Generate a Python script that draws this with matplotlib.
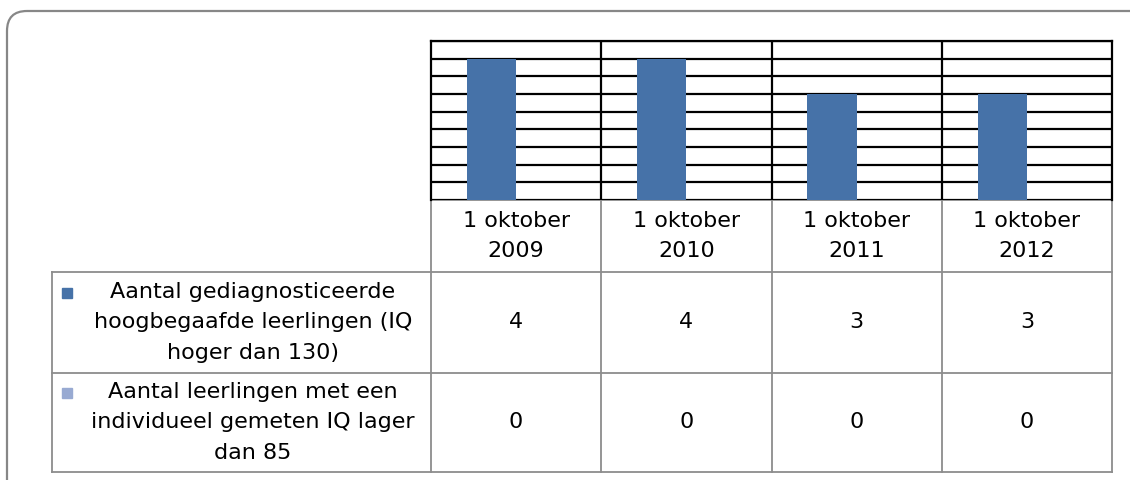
import numpy as np
import matplotlib.pyplot as plt
from matplotlib.patches import FancyBboxPatch, Rectangle

# data
categorieen = ["1 oktober\n2009", "1 oktober\n2010", "1 oktober\n2011", "1 oktober\n2012"]
reeks_namen = ["Aantal gediagnosticeerde\nhoogbegaafde leerlingen (IQ\nhoger dan 130)",
               "Aantal leerlingen met een\nindividueel gemeten IQ lager\ndan 85"]
hoogbegaafd = [4, 4, 3, 3]
iq_laag = [0, 0, 0, 0]
kleuren = ["#4672A8", "#98AAD2"]

W, H = 1130, 480
fig = plt.figure(figsize=(W / 100, H / 100), dpi=100)
plt.rcParams['font.family'] = ['DejaVu Sans']
fs = 16
grijs = "#8C8C8C"

# overlay voor kader en tabel (pixelcoordinaten)
ov = fig.add_axes([0, 0, 1, 1], zorder=0)
ov.set_xlim(0, W)
ov.set_ylim(H, 0)
ov.axis("off")
ov.add_patch(FancyBboxPatch((7, 11), W + 20, H + 20, boxstyle="round,pad=0,rounding_size=20",
                            fill=False, ec="#878787", lw=1.6))

# plotgebied
links, rechts, boven, onder = 431, 1112, 41, 200
ax = fig.add_axes([links / W, 1 - onder / H, (rechts - links) / W, (onder - boven) / H], zorder=1)
ax.set_facecolor("none")
x = np.arange(len(categorieen))
bw = 0.29
ax.bar(x - bw / 2, hoogbegaafd, bw, color=kleuren[0], zorder=3)
ax.bar(x + bw / 2, iq_laag, bw, color=kleuren[1], zorder=3)
ax.set_xlim(-0.5, len(categorieen) - 0.5)
ax.set_ylim(0, 4.5)
ax.set_yticks(np.arange(0, 4.51, 0.5))
ax.set_xticks(np.arange(0.5, len(categorieen) - 0.5, 1))
ax.grid(True, color="black", lw=1.6, zorder=1)
ax.tick_params(length=0, labelleft=False, labelbottom=False)
for s in ["left", "top", "right"]:
    ax.spines[s].set_color("black")
    ax.spines[s].set_linewidth(1.6)
ax.spines["bottom"].set_visible(False)

# tabel
kolbreedte = (rechts - links) / len(categorieen)
randen = [links + i * kolbreedte for i in range(len(categorieen) + 1)]
rijen = [onder, 272, 373, 472]
tlinks = 52
lw = 1.3
ov.plot([links, rechts], [rijen[0], rijen[0]], color=grijs, lw=lw)
for y in rijen[1:]:
    ov.plot([tlinks, rechts], [y, y], color=grijs, lw=lw)
ov.plot([tlinks, tlinks], [rijen[1], rijen[-1]], color=grijs, lw=lw)
for xr in randen:
    ov.plot([xr, xr], [rijen[0], rijen[-1]], color=grijs, lw=lw)

for i, cat in enumerate(categorieen):
    xc = (randen[i] + randen[i + 1]) / 2
    ov.text(xc, (rijen[0] + rijen[1]) / 2, cat, ha="center", va="center",
            fontsize=fs, linespacing=1.65)
    for r, vals in enumerate([hoogbegaafd, iq_laag]):
        ov.text(xc, (rijen[r + 1] + rijen[r + 2]) / 2, str(vals[i]), ha="center", va="center",
                fontsize=fs)

for r, naam in enumerate(reeks_namen):
    yc = (rijen[r + 1] + rijen[r + 2]) / 2
    ov.text(253, yc, naam, ha="center", va="center", fontsize=fs, linespacing=1.65)
    ov.add_patch(Rectangle((62, yc - 35), 10, 10, color=kleuren[r]))

fig.savefig("out.png", dpi=100)
